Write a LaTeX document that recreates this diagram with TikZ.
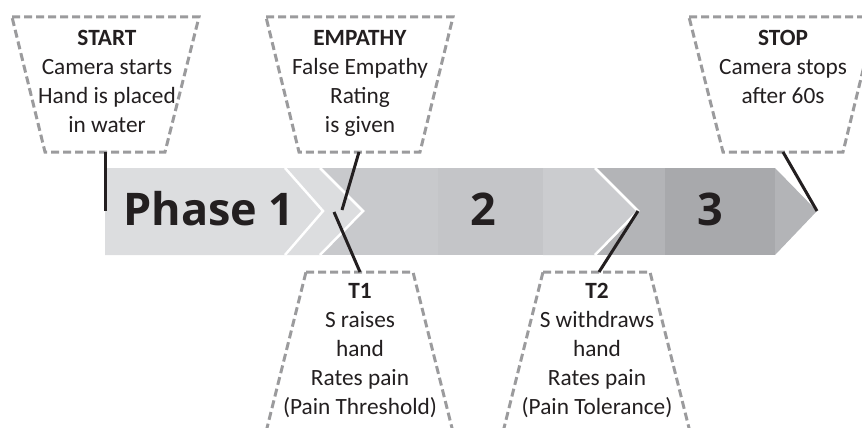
\documentclass[tikz,border=0pt]{standalone}
\usepackage{fontspec}
\setmainfont{Carlito}
\newfontfamily\phasefont{Open Sans}
\usetikzlibrary{calc}
\definecolor{boxgray}{HTML}{9B9B9D}
\definecolor{txt}{HTML}{231F20}
\definecolor{bandA}{HTML}{DCDDDF}
\definecolor{bandB}{HTML}{C8C9CC}
\definecolor{bandC}{HTML}{C4C5C8}
\definecolor{bandD}{HTML}{CBCCCF}
\definecolor{bandE}{HTML}{B3B4B7}
\definecolor{bandF}{HTML}{A8A9AC}
\tikzset{
	box/.style={draw=boxgray, line width=3pt, dash pattern=on 8pt off 4pt, line join=miter},
	link/.style={line width=3pt, txt},
	lbl/.style={font=\fontsize{23.3}{29}\selectfont, align=center, text=txt, inner sep=0pt},
	phase/.style={font=\phasefont\bfseries\fontsize{45}{45}\selectfont, text=txt, inner sep=0pt, anchor=base},
	chev/.style={white, line width=2.5pt}
}

\begin{document}
\begin{tikzpicture}[x=1pt,y=-1pt]
			%%%%% START %%%%%
			\clip (0,0) rectangle (862,428);
			
			% band
			\fill[bandB] (320,168) rectangle (438,255);
			\fill[bandC] (438,168) rectangle (543,255);
			\fill[bandE] (595,168) rectangle (665,255);
			\fill[bandD] (543,168) -- (595,168) -- (638,211) -- (595,255) -- (543,255) -- cycle;
			\fill[bandF] (665,168) rectangle (775,255);
			\fill[bandE] (775,168) -- (817,211) -- (775,255) -- cycle;
			\fill[bandA] (105,168) -- (320,168) -- (363,211) -- (320,255) -- (105,255) -- cycle;
			\draw[chev] (285,168) -- (323,211) -- (285,255);
			\draw[chev] (320,168) -- (363,211) -- (320,255);
			\draw[chev] (595,168) -- (638,211) -- (595,255);
			
			\node[phase] (ph1) at (209,225) {Phase 1};
			\node[phase] (ph2) at (483,225) {2};
			\node[phase] (ph3) at (710,225) {3};
			
			% points on the band
			\coordinate (startp) at (105,211);
			\coordinate (empp) at (342,210);
			\coordinate (tonep) at (334,212);
			\coordinate (ttwop) at (638,211);
			\coordinate (stopp) at (817,211);
			
			% boxes above
			\draw[box] (12,17) -- (199,17) -- (165,152) -- (45,152) -- cycle;
			\coordinate (startb) at (105,152);
			\node[lbl, anchor=base] (start) at (107,132) {\textbf{START}\\Camera starts\\Hand is placed\\in water};
			
			\draw[box] (266,17) -- (453,17) -- (420,152) -- (299,152) -- cycle;
			\coordinate (empb) at (359,152);
			\node[lbl, anchor=base] (emp) at (360,132) {\textbf{EMPATHY}\\False Empathy\\Rating\\is given};
			
			\draw[box] (689,17) -- (876,17) -- (843,152) -- (723,152) -- cycle;
			\coordinate (stopb) at (783,152);
			\node[lbl, anchor=base] (stop) at (783,103) {\textbf{STOP}\\Camera stops\\after 60s};
			
			% boxes below
			\draw[box] (306,272) -- (413,272) -- (455,440) -- (264,440) -- cycle;
			\coordinate (toneb) at (360,272);
			\node[lbl, anchor=base] (tone) at (360,414) {\textbf{T1}\\S raises\\hand\\Rates pain\\(Pain Threshold)};
			
			\draw[box] (543,272) -- (650,272) -- (692,440) -- (501,440) -- cycle;
			\coordinate (ttwob) at (599,272);
			\node[lbl, anchor=base] (ttwo) at (597,414) {\textbf{T2}\\S withdraws\\hand\\Rates pain\\(Pain Tolerance)};
			
			% links
			\draw[link] (startb) -- (startp);
			\draw[link] (empb) -- (empp);
			\draw[link] (stopb) -- (stopp);
			\draw[link] (toneb) -- (tonep);
			\draw[link] (ttwob) -- (ttwop);
			
			%%%%% END %%%%%
\end{tikzpicture}
\end{document}
